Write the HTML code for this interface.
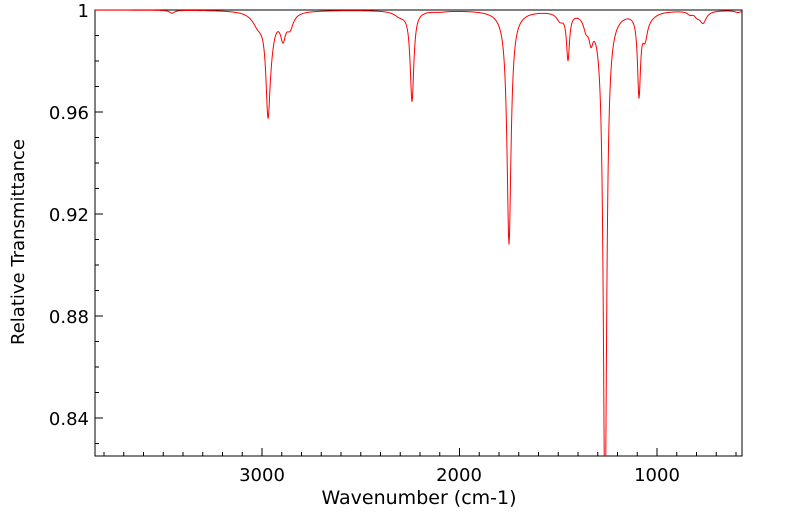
<!DOCTYPE html>
<html><head><meta charset="utf-8"><style>
html,body{margin:0;padding:0;background:#fff;width:799px;height:516px;overflow:hidden}
text{font-family:"DejaVu Sans","Liberation Sans",sans-serif;fill:#000}
</style></head><body>
<svg id="s" width="799" height="516" xmlns="http://www.w3.org/2000/svg">
<defs><clipPath id="c"><rect x="95" y="9" width="647" height="447"/></clipPath></defs>
<rect x="95" y="10" width="647" height="446" fill="none" stroke="#000" stroke-width="1"/>
<g id="ticks" stroke="#000" stroke-width="1"></g>
<path id="p" d="" fill="none" stroke="#ff0000" stroke-width="1" clip-path="url(#c)"/>
<g font-size="18" text-anchor="end">
<text x="89" y="17">1</text>
<text x="89" y="119">0.96</text>
<text x="89" y="221">0.92</text>
<text x="89" y="323">0.88</text>
<text x="89" y="425">0.84</text>
</g>
<g font-size="18" text-anchor="middle">
<text x="262" y="481">3000</text>
<text x="459" y="481">2000</text>
<text x="657" y="481">1000</text>
<text x="419" y="504" font-size="19">Wavenumber (cm-1)</text>
<text transform="translate(24,242) rotate(-90)">Relative Transmittance</text>
</g>
</svg>
<script>
var t=document.getElementById('ticks'),h='';
for(var v=4000;v>=500;v-=100){var x=657+(1000-v)*0.1975;if(x<95||x>742)continue;var L=(v%1000==0)?8:4;h+='<line x1="'+x+'" y1="456" x2="'+x+'" y2="'+(456-L)+'"/>';}
for(var k=0;k<18;k++){var y=10+k*25.5;if(y>456)break;var L=(k%4==0)?8:4;h+='<line x1="95" y1="'+y+'" x2="'+(95+L)+'" y2="'+y+'"/>';}
t.innerHTML=h;
var P=[[172,3,3],[258,12,7],[268,90,2.5],[271,16,4],[283,22,3],[290,14,4],[275,4,12],
[400,5,7],[412,90,2.2],[440,1,8],[509,226,2.4],[509,8,9],[560,8,4],[568,46,1.8],
[586,12,3],[591,20,2.5],[605,500,2],[605,14,8],[639,80,1.8],[645,22,3],[650,4,8],
[690,3,3],[697,4,3],[703,12,4],[738,2,4]];
var d='';
for(var x=95;x<=742;x+=0.5){var y=10;for(var i=0;i<P.length;i++){var q=(x-P[i][0])/P[i][2];y+=P[i][1]/(1+q*q);}d+=(d?'L':'M')+x+' '+y.toFixed(2);}
document.getElementById('p').setAttribute('d',d);
</script>
</body></html>
